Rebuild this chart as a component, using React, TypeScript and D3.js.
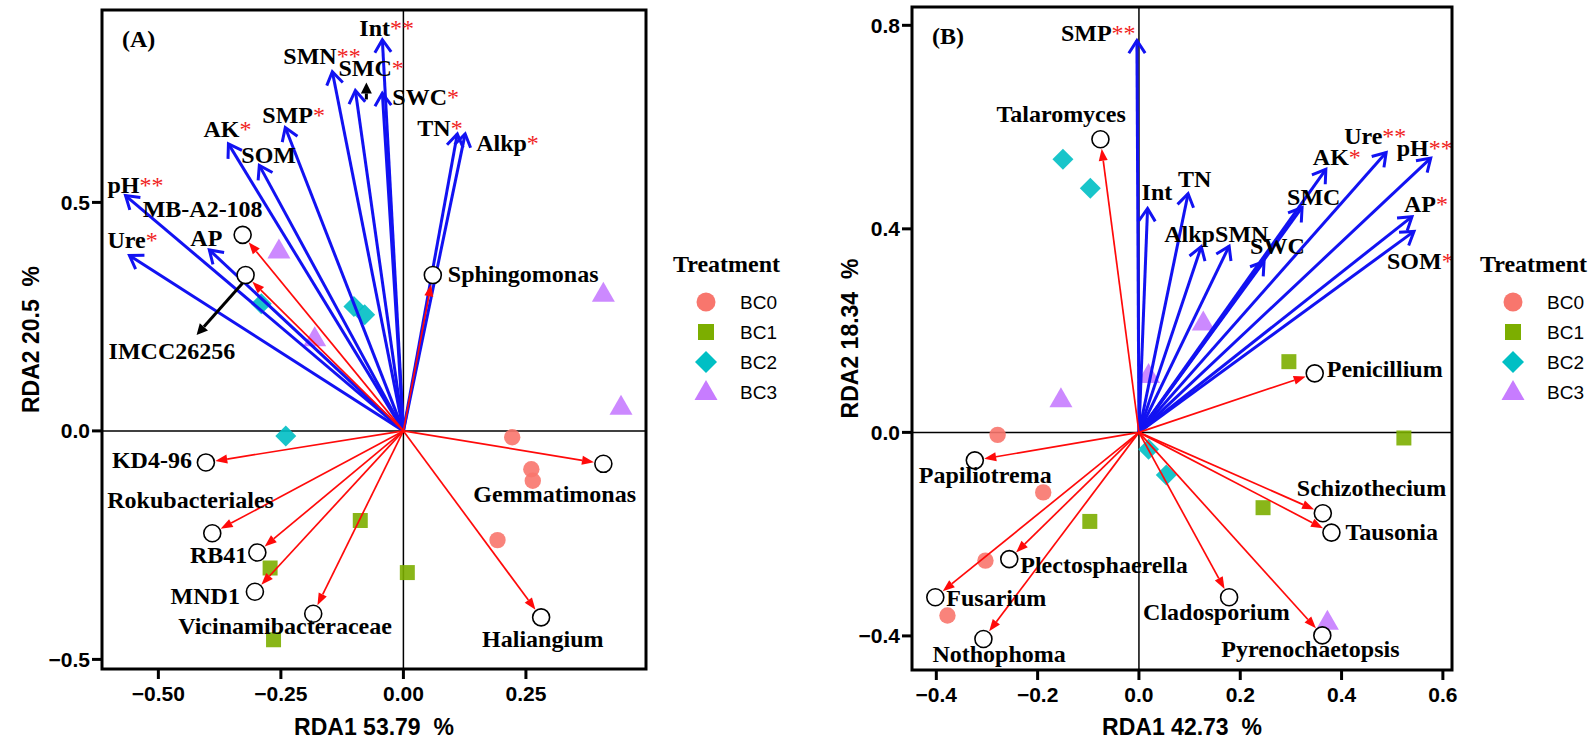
import React from 'react';
import * as d3 from 'd3';

// ---------- shared ----------
const groups = ['BC0', 'BC1', 'BC2', 'BC3'];
const groupColors = ['#F8766D', '#7CAE00', '#00BFC4', '#C77CFF'];

// ---------- Panel A data ----------
const envNamesA = ['pH', 'Ure', 'AP', 'AK', 'SOM', 'SMP', 'SMN', 'SMC', 'Int', 'SWC', 'TN', 'Alkp'];
const envXA = [-0.567, -0.559, -0.396, -0.357, -0.294, -0.241, -0.145, -0.098, -0.043, -0.043, 0.110, 0.126];
const envYA = [0.515, 0.384, 0.396, 0.628, 0.581, 0.664, 0.786, 0.745, 0.856, 0.739, 0.650, 0.650];
const envSigA = ['**', '*', '', '*', '', '*', '**', '*', '**', '*', '*', '*'];

const taxaNamesA = ['MB-A2-108', 'IMCC26256', 'Sphingomonas', 'KD4-96', 'Gemmatimonas', 'Rokubacteriales', 'RB41', 'MND1', 'Vicinamibacteraceae', 'Haliangium'];
const taxaXA = [-0.328, -0.322, 0.060, -0.403, 0.408, -0.390, -0.298, -0.303, -0.184, 0.281];
const taxaYA = [0.429, 0.341, 0.341, -0.069, -0.072, -0.224, -0.266, -0.352, -0.400, -0.408];

const sampleGroupA = ['BC0', 'BC0', 'BC0', 'BC0', 'BC1', 'BC1', 'BC1', 'BC1', 'BC2', 'BC2', 'BC2', 'BC2', 'BC3', 'BC3', 'BC3', 'BC3'];
const sampleXA = [0.222, 0.261, 0.264, 0.192, -0.088, -0.272, 0.008, -0.265, -0.290, -0.101, -0.079, -0.240, -0.254, 0.408, -0.181, 0.444];
const sampleYA = [-0.014, -0.084, -0.109, -0.239, -0.196, -0.300, -0.310, -0.457, 0.278, 0.272, 0.254, -0.011, 0.395, 0.300, 0.203, 0.053];

const xTicksA = [-0.5, -0.25, 0, 0.25];
const yTicksA = [-0.5, 0, 0.5];

// ---------- Panel B data ----------
const envNamesB = ['SMP', 'Int', 'TN', 'Alkp', 'SMN', 'SWC', 'SMC', 'AK', 'Ure', 'pH', 'AP', 'SOM'];
const envXB = [-0.004, 0.017, 0.097, 0.123, 0.178, 0.247, 0.322, 0.369, 0.488, 0.576, 0.539, 0.543];
const envYB = [0.770, 0.440, 0.469, 0.365, 0.366, 0.336, 0.442, 0.517, 0.550, 0.539, 0.424, 0.395];
const envSigB = ['**', '', '', '', '', '', '', '*', '**', '**', '*', '*'];

const taxaNamesB = ['Talaromyces', 'Penicillium', 'Papiliotrema', 'Schizothecium', 'Tausonia', 'Plectosphaerella', 'Fusarium', 'Cladosporium', 'Nothophoma', 'Pyrenochaetopsis'];
const taxaXB = [-0.076, 0.347, -0.324, 0.363, 0.380, -0.256, -0.402, 0.178, -0.307, 0.362];
const taxaYB = [0.576, 0.116, -0.055, -0.159, -0.197, -0.249, -0.324, -0.324, -0.406, -0.399];

const sampleGroupB = ['BC0', 'BC0', 'BC0', 'BC0', 'BC1', 'BC1', 'BC1', 'BC1', 'BC2', 'BC2', 'BC2', 'BC2', 'BC3', 'BC3', 'BC3', 'BC3'];
const sampleXB = [-0.279, -0.189, -0.303, -0.378, 0.296, 0.523, 0.245, -0.097, -0.150, -0.096, 0.019, 0.054, 0.127, 0.019, -0.154, 0.372];
const sampleYB = [-0.005, -0.118, -0.252, -0.360, 0.139, -0.011, -0.148, -0.175, 0.537, 0.480, -0.033, -0.084, 0.216, 0.113, 0.065, -0.372];

const xTicksB = [-0.4, -0.2, 0, 0.2, 0.4, 0.6];
const yTicksB = [-0.4, 0, 0.4, 0.8];

// ---------- layout (positions / styles) ----------
const layoutA = {
  xDomain: [-0.615, 0.495], yDomain: [-0.521, 0.921],
  left: 102, right: 646, top: 10, bottom: 669,
  xFmt: '.2f', yFmt: '.1f',
  tag: '(A)', xTitle: 'RDA1 53.79  %', yTitle: 'RDA2 20.5  %',
  yTitleX: 31, legendX: 673,
};
const layoutB = {
  xDomain: [-0.448, 0.618], yDomain: [-0.467, 0.836],
  left: 912, right: 1452, top: 7, bottom: 670,
  xFmt: '.1f', yFmt: '.1f',
  tag: '(B)', xTitle: 'RDA1 42.73  %', yTitle: 'RDA2 18.34  %',
  yTitleX: 850, legendX: 1480,
};

// label offsets relative to arrow tip / circle centre: [dx, dy, anchor]
const envOffA: Record<string, [number, number, string]> = {
  pH: [-18, -3, 'start'], Ure: [-22, -7, 'start'], AP: [-19, -4, 'start'], AK: [-25, -7, 'start'],
  SOM: [-18, -2, 'start'], SMP: [-23, -4, 'start'], SMN: [-49, -8, 'start'], SMC: [-17, -14, 'start'],
  Int: [-23, -4, 'start'], SWC: [10, 12, 'start'], TN: [-40, 2, 'start'], Alkp: [11, 17, 'start'],
};
const taxaOffA: Record<string, [number, number, string]> = {
  'MB-A2-108': [-100, -18, 'start'], IMCC26256: [-137, 84, 'start'], Sphingomonas: [15, 7, 'start'],
  'KD4-96': [-14, 6, 'end'], Gemmatimonas: [-130, 38, 'start'], Rokubacteriales: [-105, -25, 'start'],
  RB41: [-10, 11, 'end'], MND1: [-15, 12, 'end'], Vicinamibacteraceae: [-135, 20, 'start'], Haliangium: [-59, 30, 'start'],
};
const envOffB: Record<string, [number, number, string]> = {
  SMP: [-76, 0, 'start'], Int: [-6, -8, 'start'], TN: [-10, -7, 'start'], Alkp: [-37, -5, 'start'],
  SMN: [-14, -4, 'start'], SWC: [-14, -7, 'start'], SMC: [-15, -2, 'start'], AK: [-13, -4, 'start'],
  Ure: [-42, -9, 'start'], pH: [-34, -2, 'start'], AP: [-8, -5, 'start'], SOM: [-27, 38, 'start'],
};
const taxaOffB: Record<string, [number, number, string]> = {
  Talaromyces: [-104, -17, 'start'], Penicillium: [12, 4, 'start'], Papiliotrema: [-56, 23, 'start'],
  Schizothecium: [-26, -17, 'start'], Tausonia: [14, 7, 'start'], Plectosphaerella: [11, 14, 'start'],
  Fusarium: [11, 9, 'start'], Cladosporium: [-86, 23, 'start'], Nothophoma: [-51, 23, 'start'],
  Pyrenochaetopsis: [-101, 22, 'start'],
};
// black pointer arrows (relative to a taxon circle or env tip)
const pointersA = [
  { kind: 'taxa', ref: 'IMCC26256', from: [-2, 7], to: [-49, 60] },
  { kind: 'env', ref: 'SMC', from: [11, 9], to: [11, -8] },
];

const BLUE = '#1212F2';
const RED = '#FF0A0A';
const STAR = '#F01E1E';
const SERIF = '"Liberation Serif", "Times New Roman", serif';
const SANS = '"Liberation Sans", Arial, sans-serif';

function markerPath(g: string): string {
  if (g === 'BC0') return d3.symbol(d3.symbolCircle, Math.PI * 8.2 * 8.2)() as string;
  if (g === 'BC1') return 'M-7.5,-7.5H7.5V7.5H-7.5Z';
  if (g === 'BC2') return 'M0,-10.5L10.5,0L0,10.5L-10.5,0Z';
  return 'M0,-12L11.5,8L-11.5,8Z';
}

function legendPath(g: string): string {
  if (g === 'BC0') return d3.symbol(d3.symbolCircle, Math.PI * 9.5 * 9.5)() as string;
  if (g === 'BC1') return 'M-8,-8H8V8H-8Z';
  if (g === 'BC2') return 'M0,-11L11,0L0,11L-11,0Z';
  return 'M0,-12L11.5,8L-11.5,8Z';
}

function fmtTick(v: number, f: string) {
  return d3.format(f)(v).replace('-', '\u2212');
}

function Panel(props: any) {
  const { L, envNames, envX, envY, envSig, taxaNames, taxaX, taxaY, sGroup, sX, sY, xTicks, yTicks, envOff, taxaOff, pointers } = props;
  const x = d3.scaleLinear().domain(L.xDomain).range([L.left, L.right]);
  const y = d3.scaleLinear().domain(L.yDomain).range([L.bottom, L.top]);
  const x0 = x(0), y0 = y(0);
  const labelSize = 24;

  const blueArrows = envNames.map((n: string, i: number) => {
    const tx = x(envX[i]), ty = y(envY[i]);
    const dx = tx - x0, dy = ty - y0;
    const len = Math.hypot(dx, dy);
    const ux = dx / len, uy = dy / len;
    const a = (33 * Math.PI) / 180, al = 15;
    const r1x = ux * Math.cos(a) - uy * Math.sin(a), r1y = ux * Math.sin(a) + uy * Math.cos(a);
    const r2x = ux * Math.cos(-a) - uy * Math.sin(-a), r2y = ux * Math.sin(-a) + uy * Math.cos(-a);
    return (
      <g key={'b' + n}>
        <line x1={x0} y1={y0} x2={tx} y2={ty} stroke={BLUE} strokeWidth={3} />
        <polyline points={`${tx - al * r1x},${ty - al * r1y} ${tx},${ty} ${tx - al * r2x},${ty - al * r2y}`} fill="none" stroke={BLUE} strokeWidth={3} strokeLinejoin="miter" />
      </g>
    );
  });

  const R = 8.5;
  const redArrows = taxaNames.map((n: string, i: number) => {
    const cx = x(taxaX[i]), cy = y(taxaY[i]);
    const dx = cx - x0, dy = cy - y0;
    const len = Math.hypot(dx, dy);
    const ux = dx / len, uy = dy / len;
    const ex = cx - ux * (R + 1), ey = cy - uy * (R + 1);
    const hl = 12, hw = 4.5;
    const bx = ex - ux * hl, by = ey - uy * hl;
    return (
      <g key={'r' + n}>
        <line x1={x0} y1={y0} x2={bx} y2={by} stroke={RED} strokeWidth={1.7} />
        <polygon points={`${ex},${ey} ${bx - uy * hw},${by + ux * hw} ${bx + uy * hw},${by - ux * hw}`} fill={RED} />
      </g>
    );
  });

  const pointerEls = (pointers || []).map((p: any, i: number) => {
    let bx0, by0;
    if (p.kind === 'taxa') {
      const k = taxaNames.indexOf(p.ref);
      bx0 = x(taxaX[k]); by0 = y(taxaY[k]);
    } else {
      const k = envNames.indexOf(p.ref);
      bx0 = x(envX[k]); by0 = y(envY[k]);
    }
    const sx = bx0 + p.from[0], sy = by0 + p.from[1];
    const ex = bx0 + p.to[0], ey = by0 + p.to[1];
    const dx = ex - sx, dy = ey - sy;
    const len = Math.hypot(dx, dy);
    const ux = dx / len, uy = dy / len;
    const hl = 11, hw = 5.5;
    const hx = ex - ux * hl, hy = ey - uy * hl;
    return (
      <g key={'p' + i}>
        <line x1={sx} y1={sy} x2={hx} y2={hy} stroke="#000" strokeWidth={3} />
        <polygon points={`${ex},${ey} ${hx - uy * hw},${hy + ux * hw} ${hx + uy * hw},${hy - ux * hw}`} fill="#000" />
      </g>
    );
  });

  const legendItems = groups.map((g, i) => (
    <g key={'lg' + g}>
      <path d={legendPath(g)} transform={`translate(${L.legendX + 33},${302 + i * 30})`} fill={groupColors[i]} />
      <text x={L.legendX + 67} y={308.5 + i * 30} fontFamily={SANS} fontSize={19} fill="#000">{g}</text>
    </g>
  ));

  return (
    <g>
      {/* zero lines */}
      <line x1={L.left} x2={L.right} y1={y0} y2={y0} stroke="#000" strokeWidth={1.5} />
      <line x1={x0} x2={x0} y1={L.top} y2={L.bottom} stroke="#000" strokeWidth={1.5} />
      {/* samples */}
      {sX.map((v: number, i: number) => (
        <path key={'s' + i} d={markerPath(sGroup[i])} transform={`translate(${x(v)},${y(sY[i])})`}
          fill={groupColors[groups.indexOf(sGroup[i])]} fillOpacity={0.9} />
      ))}
      {blueArrows}
      {redArrows}
      {pointerEls}
      {/* taxa circles */}
      {taxaNames.map((n: string, i: number) => (
        <circle key={'c' + n} cx={x(taxaX[i])} cy={y(taxaY[i])} r={R} fill="#fff" stroke="#000" strokeWidth={1.6} />
      ))}
      {/* env labels */}
      {envNames.map((n: string, i: number) => {
        const o = envOff[n];
        return (
          <text key={'el' + n} x={x(envX[i]) + o[0]} y={y(envY[i]) + o[1]} textAnchor={o[2]}
            fontFamily={SERIF} fontWeight="bold" fontSize={labelSize} fill="#000">
            {n}
            {envSig[i] ? <tspan fill={STAR} fontWeight="normal">{envSig[i]}</tspan> : null}
          </text>
        );
      })}
      {/* taxa labels */}
      {taxaNames.map((n: string, i: number) => {
        const o = taxaOff[n];
        return (
          <text key={'tl' + n} x={x(taxaX[i]) + o[0]} y={y(taxaY[i]) + o[1]} textAnchor={o[2]}
            fontFamily={SERIF} fontWeight="bold" fontSize={labelSize} fill="#000">{n}</text>
        );
      })}
      <text x={L.left + 20} y={L.top + 37} fontFamily={SERIF} fontWeight="bold" fontSize={24} fill="#000">{L.tag}</text>
      {/* frame */}
      <rect x={L.left} y={L.top} width={L.right - L.left} height={L.bottom - L.top} fill="none" stroke="#000" strokeWidth={3} />
      {/* x axis */}
      {xTicks.map((t: number) => (
        <g key={'xt' + t}>
          <line x1={x(t)} x2={x(t)} y1={L.bottom} y2={L.bottom + 10} stroke="#000" strokeWidth={3} />
          <text x={x(t)} y={L.bottom + 32} textAnchor="middle" fontFamily={SANS} fontWeight="bold" fontSize={21} fill="#000">{fmtTick(t, L.xFmt)}</text>
        </g>
      ))}
      {yTicks.map((t: number) => (
        <g key={'yt' + t}>
          <line x1={L.left - 10} x2={L.left} y1={y(t)} y2={y(t)} stroke="#000" strokeWidth={3} />
          <text x={L.left - 12} y={y(t) + 7.5} textAnchor="end" fontFamily={SANS} fontWeight="bold" fontSize={21} fill="#000">{fmtTick(t, L.yFmt)}</text>
        </g>
      ))}
      <text x={(L.left + L.right) / 2} y={735} textAnchor="middle" fontFamily={SANS} fontWeight="bold" fontSize={23} fill="#000" style={{ whiteSpace: 'pre' }}>{L.xTitle}</text>
      <text transform={`translate(${L.yTitleX},${(L.top + L.bottom) / 2}) rotate(-90)`} textAnchor="middle" dominantBaseline="central"
        fontFamily={SANS} fontWeight="bold" fontSize={23} fill="#000" style={{ whiteSpace: 'pre' }}>{L.yTitle}</text>
      {/* legend */}
      <text x={L.legendX} y={272} fontFamily={SERIF} fontWeight="bold" fontSize={24} fill="#000">Treatment</text>
      {legendItems}
    </g>
  );
}

export default function App() {
  return (
    <svg width={1595} height={744} style={{ position: 'absolute', left: 0, top: 0, background: '#fff' }}>
      <rect x={0} y={0} width={1595} height={744} fill="#fff" />
      <Panel L={layoutA} envNames={envNamesA} envX={envXA} envY={envYA} envSig={envSigA}
        taxaNames={taxaNamesA} taxaX={taxaXA} taxaY={taxaYA}
        sGroup={sampleGroupA} sX={sampleXA} sY={sampleYA}
        xTicks={xTicksA} yTicks={yTicksA} envOff={envOffA} taxaOff={taxaOffA} pointers={pointersA} />
      <Panel L={layoutB} envNames={envNamesB} envX={envXB} envY={envYB} envSig={envSigB}
        taxaNames={taxaNamesB} taxaX={taxaXB} taxaY={taxaYB}
        sGroup={sampleGroupB} sX={sampleXB} sY={sampleYB}
        xTicks={xTicksB} yTicks={yTicksB} envOff={envOffB} taxaOff={taxaOffB} pointers={[]} />
    </svg>
  );
}
